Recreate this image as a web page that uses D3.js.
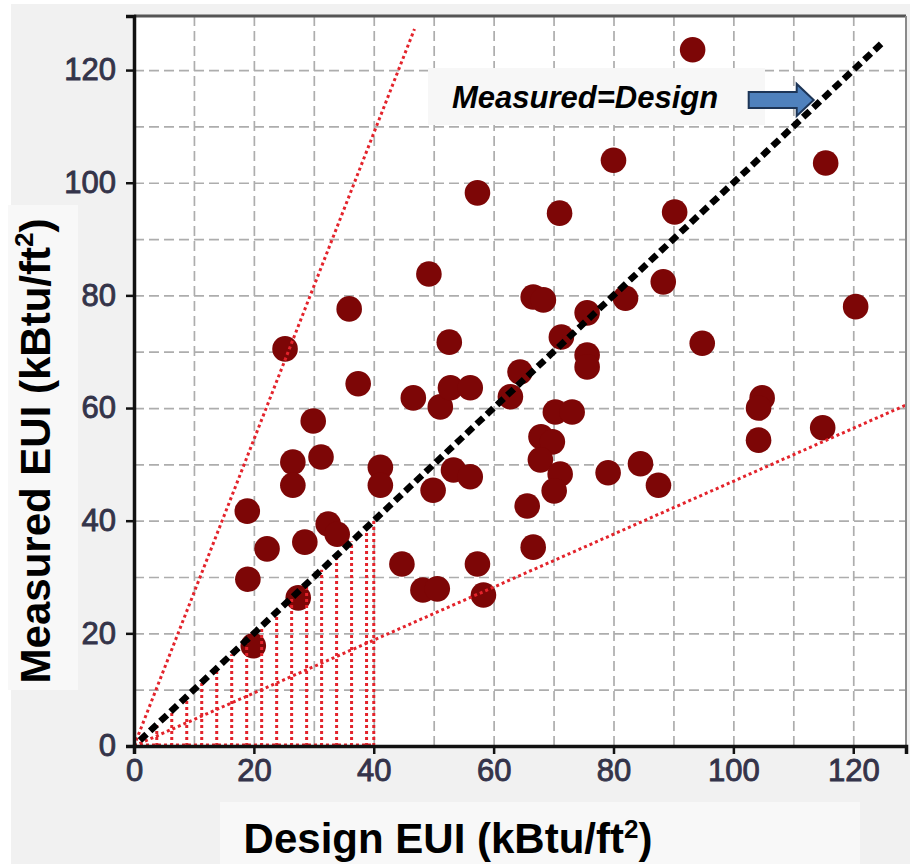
<!DOCTYPE html>
<meta charset="utf-8">
<script src="https://d3js.org/d3.v7.min.js"></script>
<html>
<head>
<style>
  body { margin: 0; background: #fff; }
  svg text { font-family: "Liberation Sans", Arial, sans-serif; }
</style>
</head>
<body>
<div id="chart"></div>
<script>
// data: design EUI vs measured EUI (kBtu/ft2)
var designEUI = [
  25.2, 35.9, 49.2, 37.4, 29.9, 46.6, 52.6, 51.1, 52.8, 56.1,
  93.2, 80.0, 115.4, 57.3, 71.0, 90.2, 66.6, 68.3, 75.6, 82.0,
  88.3, 120.4, 71.3, 75.6, 75.6, 94.8, 64.4, 62.8, 70.3, 73.1,
  104.8, 104.2, 104.2, 114.9, 67.9, 69.8, 67.8, 71.1, 70.1, 53.3,
  56.1, 49.9, 65.6, 79.1, 84.5, 87.5, 66.6, 57.3, 58.3, 48.2,
  50.6, 44.7, 26.5, 26.5, 31.2, 41.1, 41.1, 18.9, 28.5, 32.4,
  33.9, 22.2, 19.0, 27.4, 19.9
];
var measuredEUI = [
  70.5, 77.6, 83.8, 64.3, 57.7, 61.8, 71.7, 60.2, 63.6, 63.6,
  123.6, 104.0, 103.5, 98.2, 94.6, 94.8, 79.7, 79.2, 76.9, 79.5,
  82.4, 78.0, 72.6, 69.4, 67.3, 71.5, 66.4, 62.0, 59.3, 59.3,
  61.8, 60.0, 54.3, 56.5, 54.9, 54.0, 50.8, 48.3, 45.3, 49.0,
  47.8, 45.4, 42.6, 48.5, 50.1, 46.3, 35.3, 32.3, 26.8, 27.7,
  27.9, 32.3, 50.4, 46.3, 51.3, 49.5, 46.3, 41.7, 36.2, 39.4,
  37.6, 35.0, 29.6, 26.3, 17.8
];

var tickValues = [0, 20, 40, 60, 80, 100, 120];
var gridValues = [10, 20, 30, 40, 50, 60, 70, 80, 90, 100, 110, 120];

// reference lines through the origin: slope, end x
var refSlopes = [2.72, 0.47];
var refEndX = [46.8, 128.8];
var equalityEnd = 125;

// shaded band below the 1:1 line, design 0..40
var hatchX = [3.8, 6.3, 8.8, 11.3, 13.8, 16.3, 18.8, 21.3, 23.8, 26.3, 28.8, 31.3, 33.8, 36.3, 38.8, 40];

var width = 910, height = 864;
var margin = {left: 134, right: 4, top: 16, bottom: 118};

var svg = d3.select("#chart").append("svg")
    .attr("width", width)
    .attr("height", height);

// grey page and lighter label panels
svg.append("rect").attr("x", 11).attr("y", 4).attr("width", width - 11).attr("height", height - 4).attr("fill", "#f1f1f1");
svg.append("rect").attr("x", 8).attr("y", 205).attr("width", 70).attr("height", 485).attr("fill", "#f8f8f8");
svg.append("rect").attr("x", 220).attr("y", 802).attr("width", 640).attr("height", 62).attr("fill", "#f8f8f8");

var x = d3.scaleLinear().domain([0, 128.8]).range([margin.left, width - margin.right]);
var y = d3.scaleLinear().domain([0, 129.6]).range([height - margin.bottom, margin.top]);

var x0 = x(0), x1 = x.range()[1], y0 = y(0), y1 = y.range()[1];

svg.append("rect")
    .attr("x", x0).attr("y", y1)
    .attr("width", x1 - x0).attr("height", y0 - y1)
    .attr("fill", "#ffffff");

// dashed grid
var gridX = svg.append("g")
    .attr("transform", "translate(0," + y0 + ")")
    .call(d3.axisBottom(x).tickValues(gridValues).tickSize(-(y0 - y1)).tickFormat(""));
var gridY = svg.append("g")
    .attr("transform", "translate(" + x0 + ",0)")
    .call(d3.axisLeft(y).tickValues(gridValues).tickSize(-(x1 - x0)).tickFormat(""));
[gridX, gridY].forEach(function(g) {
  g.select(".domain").remove();
  g.selectAll(".tick line")
    .attr("stroke", "#adadad")
    .attr("stroke-width", 1.7)
    .attr("stroke-dasharray", "10,5");
});

// points
svg.append("g")
  .selectAll("circle")
  .data(designEUI)
  .enter().append("circle")
    .attr("cx", function(d) { return x(d); })
    .attr("cy", function(d, i) { return y(measuredEUI[i]); })
    .attr("r", 12.8)
    .attr("fill", "#7d0606");

var red = "#e3232b";

// hatch below 1:1 line
var hatch = svg.append("g")
    .attr("stroke", red)
    .attr("stroke-width", 3)
    .attr("stroke-dasharray", "3,3");
hatch.selectAll("line")
  .data(hatchX)
  .enter().append("line")
    .attr("x1", function(d) { return x(d); })
    .attr("x2", function(d) { return x(d); })
    .attr("y1", y(0))
    .attr("y2", function(d) { return y(d); });
hatch.append("line")
    .attr("x1", x(0)).attr("x2", x(40))
    .attr("y1", y(0) - 1).attr("y2", y(0) - 1);

// red dotted bounds
svg.append("g")
  .selectAll("line")
  .data(refSlopes)
  .enter().append("line")
    .attr("x1", x(0))
    .attr("y1", y(0))
    .attr("x2", function(d, i) { return x(refEndX[i]); })
    .attr("y2", function(d, i) { return y(d * refEndX[i]); })
    .attr("stroke", red)
    .attr("stroke-width", 3)
    .attr("stroke-dasharray", "3,3");

// measured = design
svg.append("line")
    .attr("x1", x(1)).attr("y1", y(1))
    .attr("x2", x(equalityEnd)).attr("y2", y(equalityEnd))
    .attr("stroke", "#000")
    .attr("stroke-width", 6.5)
    .attr("stroke-dasharray", "9,5");

// frame
svg.append("line").attr("x1", x0).attr("x2", x1).attr("y1", y1).attr("y2", y1)
    .attr("stroke", "#555").attr("stroke-width", 3);
svg.append("line").attr("x1", x1).attr("x2", x1).attr("y1", y1).attr("y2", y0)
    .attr("stroke", "#8a8a8a").attr("stroke-width", 2);

// axes
var xAxis = svg.append("g")
    .attr("transform", "translate(0," + y0 + ")")
    .call(d3.axisBottom(x).tickValues(tickValues).tickSize(8).tickPadding(5));
var yAxis = svg.append("g")
    .attr("transform", "translate(" + x0 + ",0)")
    .call(d3.axisLeft(y).tickValues(tickValues).tickSize(8).tickPadding(10));
[xAxis, yAxis].forEach(function(g) {
  g.select(".domain").attr("stroke", "#111").attr("stroke-width", 3.5);
  g.selectAll(".tick line").attr("stroke", "#111").attr("stroke-width", 2.5);
  g.selectAll(".tick text")
    .attr("fill", "#34344a")
    .attr("font-size", 31)
    .attr("stroke", "#34344a")
    .attr("stroke-width", 0.9)
    .style("font-family", "'Liberation Sans', Arial, sans-serif");
});

// axis titles
var yTitle = svg.append("text")
    .attr("transform", "translate(50," + 451 + ") rotate(-90)")
    .attr("text-anchor", "middle")
    .attr("font-size", 42)
    .attr("font-weight", "bold")
    .attr("fill", "#000");
yTitle.append("tspan").text("Measured EUI (kBtu/ft");
yTitle.append("tspan").attr("font-size", 26).attr("dy", -17).text("2");
yTitle.append("tspan").attr("dy", 17).text(")");

var xTitle = svg.append("text")
    .attr("x", 448)
    .attr("y", 853)
    .attr("text-anchor", "middle")
    .attr("font-size", 42)
    .attr("font-weight", "bold")
    .attr("fill", "#000");
xTitle.append("tspan").text("Design EUI (kBtu/ft");
xTitle.append("tspan").attr("font-size", 26).attr("dy", -15).text("2");
xTitle.append("tspan").attr("dy", 15).text(")");

// annotation
svg.append("rect")
    .attr("x", 428).attr("y", 68)
    .attr("width", 337).attr("height", 57)
    .attr("fill", "#f7f7f7");
svg.append("text")
    .attr("x", 452).attr("y", 108)
    .attr("font-size", 31)
    .attr("font-weight", "bold")
    .attr("font-style", "italic")
    .attr("fill", "#000")
    .text("Measured=Design");

var tipX = x(113.4), tipY = y(114.7);
svg.append("path")
    .attr("d", "M" + (tipX - 65) + "," + (tipY - 8) +
               "H" + (tipX - 17) + "V" + (tipY - 16) +
               "L" + tipX + "," + tipY +
               "L" + (tipX - 17) + "," + (tipY + 16) +
               "V" + (tipY + 8) + "H" + (tipX - 65) + "Z")
    .attr("fill", "#4f81bd")
    .attr("stroke", "#1d3557")
    .attr("stroke-width", 2);
</script>
</body>
</html>
